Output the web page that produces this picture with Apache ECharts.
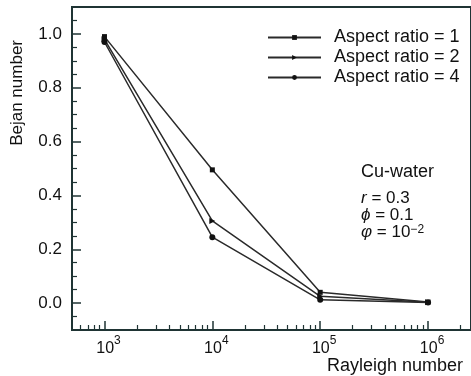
<!DOCTYPE html>
<html>
<head>
<meta charset="utf-8">
<script src="https://cdn.jsdelivr.net/npm/echarts@6/dist/echarts.min.js"></script>
<style>
html,body{margin:0;padding:0;background:#fff;}
#c{width:471px;height:376px;}
</style>
</head>
<body>
<div id="c"></div>
<script>
// ---- data ----
const rayleigh = [1e3, 1e4, 1e5, 1e6];
const seriesNames = ['Aspect ratio = 1', 'Aspect ratio = 2', 'Aspect ratio = 4'];
const ar1 = [0.99, 0.495, 0.040, 0.004];
const ar2 = [0.98, 0.305, 0.025, 0.003];
const ar3 = [0.97, 0.245, 0.012, 0.002];
const xMajorTicks = [1e3, 1e4, 1e5, 1e6];
const xMinorTicks = [600, 700, 800, 900,
  2e3, 3e3, 4e3, 5e3, 6e3, 7e3, 8e3, 9e3,
  2e4, 3e4, 4e4, 5e4, 6e4, 7e4, 8e4, 9e4,
  2e5, 3e5, 4e5, 5e5, 6e5, 7e5, 8e5, 9e5,
  2e6];
const yMajorTicks = [0, 0.2, 0.4, 0.6, 0.8, 1.0];
const yMinorTicks = [-0.05, 0.05, 0.1, 0.15, 0.25, 0.3, 0.35, 0.45, 0.5, 0.55, 0.65, 0.7, 0.75, 0.85, 0.9, 0.95, 1.05];

const FONT = '"Liberation Sans", Arial, Helvetica, sans-serif';
const AXIS = '#1f3434';
const LINE = '#2a2a2a';
const TXT = '#111';

const chart = echarts.init(document.getElementById('c'), null, {renderer: 'canvas'});
const pair = arr => rayleigh.map((x, i) => [x, arr[i]]);
const symbols = ['rect', 'triangle', 'circle'];
const symSizes = [5, 6, 6];
const symRot = [0, -90, 0];
const datas = [ar1, ar2, ar3];

const option = {
  animation: false,
  backgroundColor: '#fff',
  textStyle: {fontFamily: FONT},
  grid: {left: 72, top: 7, right: -1, bottom: 46, show: true, borderColor: AXIS, borderWidth: 2, backgroundColor: 'transparent'},
  legend: {
    orient: 'vertical', left: 262, top: 23,
    itemWidth: 53, itemHeight: 6, itemGap: 1,
    textStyle: {fontFamily: FONT, fontSize: 18, color: TXT, lineHeight: 19, padding: [0, 0, 0, 8]},
    data: seriesNames
  },
  xAxis: [
    {
      type: 'log', logBase: 10, min: 500, max: 2.5e6,
      axisLine: {onZero: false, lineStyle: {color: AXIS, width: 2}},
      axisTick: {inside: true, length: 9, customValues: xMajorTicks, lineStyle: {color: AXIS, width: 1.5}},
      minorTick: {show: false},
      splitLine: {show: false},
      axisLabel: {
        customValues: xMajorTicks, margin: 5, color: TXT,
        formatter: v => '{b|10}{s|' + Math.round(Math.log10(v)) + '}',
        rich: {
          b: {fontSize: 16, fontFamily: FONT, color: TXT, lineHeight: 22, verticalAlign: 'bottom', padding: [0, 0, 0, 8]},
          s: {fontSize: 12, fontFamily: FONT, color: TXT, lineHeight: 12, verticalAlign: 'top'}
        }
      }
    },
    {
      type: 'log', logBase: 10, min: 500, max: 2.5e6, position: 'bottom',
      axisLine: {show: false, onZero: false},
      axisTick: {inside: true, length: 5, customValues: xMinorTicks, lineStyle: {color: AXIS, width: 1.2}},
      axisLabel: {show: false},
      splitLine: {show: false}
    }
  ],
  yAxis: [
    {
      type: 'value', min: -0.1, max: 1.1,
      axisLine: {show: true, onZero: false, lineStyle: {color: AXIS, width: 2}},
      axisTick: {show: true, inside: true, length: 9, customValues: yMajorTicks, lineStyle: {color: AXIS, width: 1.5}},
      splitLine: {show: false},
      axisLabel: {customValues: yMajorTicks, margin: 10, fontSize: 17, color: TXT, fontFamily: FONT,
        formatter: v => v.toFixed(1)}
    },
    {
      type: 'value', min: -0.1, max: 1.1, position: 'left',
      axisLine: {show: false, onZero: false},
      axisTick: {show: true, inside: true, length: 5, customValues: yMinorTicks, lineStyle: {color: AXIS, width: 1.2}},
      splitLine: {show: false},
      axisLabel: {show: false}
    }
  ],
  series: seriesNames.map((name, i) => ({
    name, type: 'line', xAxisIndex: 0, yAxisIndex: 0,
    data: pair(datas[i]),
    symbol: symbols[i], symbolSize: symSizes[i], symbolRotate: symRot[i],
    showAllSymbol: true,
    lineStyle: {color: LINE, width: 1.5},
    itemStyle: {color: '#111'}
  })),
  graphic: [
    {type: 'text', left: 9, top: 40, rotation: Math.PI / 2,
      style: {text: 'Bejan number', font: '17px ' + FONT, fill: TXT}},
    {type: 'text', right: 8, top: 357,
      style: {text: 'Rayleigh number', font: '18px ' + FONT, fill: TXT}},
    {type: 'text', left: 361, top: 163,
      style: {text: 'Cu-water', font: '18px ' + FONT, fill: TXT}},
    {type: 'text', left: 361, top: 190,
      style: {
        text: '{i|r} = 0.3\n{i|ϕ} = 0.1\n{i|φ} = 10{s|−2}',
        font: '17px ' + FONT, fill: TXT, lineHeight: 17,
        rich: {
          i: {fontStyle: 'italic', fontSize: 17, fontFamily: FONT, fill: TXT, lineHeight: 17},
          s: {fontSize: 12, fontFamily: FONT, fill: TXT, verticalAlign: 'top', lineHeight: 12}
        }
      }}
  ]
};
chart.setOption(option);
</script>
</body>
</html>
